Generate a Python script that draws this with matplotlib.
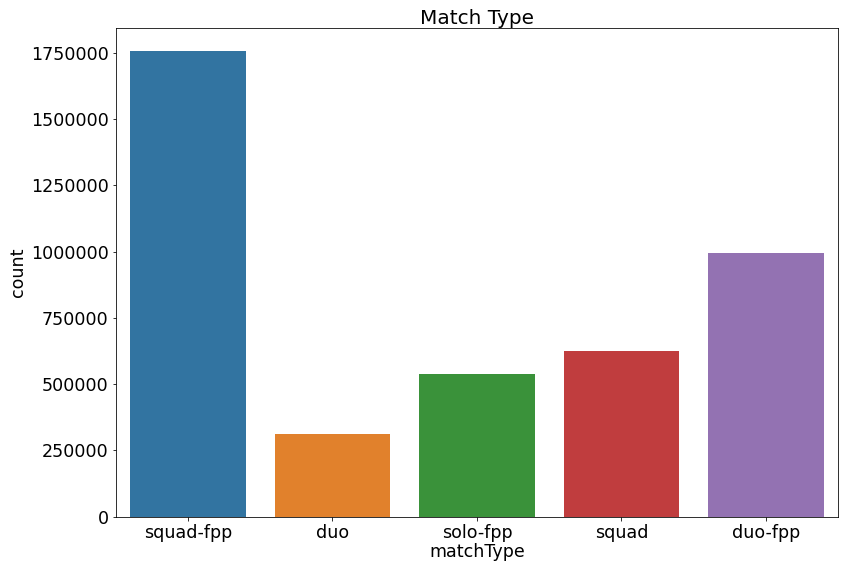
import matplotlib
matplotlib.use('Agg')
import matplotlib.pyplot as plt
from matplotlib.ticker import FuncFormatter

match_types = ['squad-fpp', 'duo', 'solo-fpp', 'squad', 'duo-fpp']
counts = [1756186, 313591, 536762, 626526, 996691]
colors = ['#3274a1', '#e1812c', '#3a923a', '#c03d3e', '#9372b2']

plt.rcParams['font.size'] = 17.5
fig = plt.figure(figsize=(851 / 72, 571 / 72), dpi=72)
ax = fig.add_axes([0.136, 0.095, 0.849, 0.856])

x = range(len(match_types))
ax.bar(x, counts, width=0.8, color=colors)
ax.set_xticks(list(x))
ax.set_xticklabels(match_types)
ax.set_xlim(-0.5, len(match_types) - 0.5)
ax.yaxis.set_major_formatter(FuncFormatter(lambda v, p: '%d' % v))
ax.set_yticks(range(0, 1750001, 250000))
ax.set_xlabel('matchType', labelpad=1)
ax.set_ylabel('count')
ax.set_title('Match Type', fontsize=20, pad=2)

fig.savefig('out.png', dpi=72)
